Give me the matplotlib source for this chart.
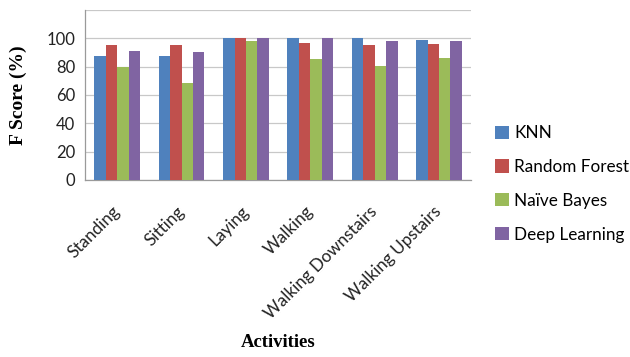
import matplotlib

matplotlib.use("Agg")
import matplotlib.pyplot as plt
import numpy as np

activities = ["Standing", "Sitting", "Laying", "Walking",
              "Walking Downstairs", "Walking Upstairs"]
knn = [87.8, 87.8, 100.0, 100.0, 100.0, 99.0]
random_forest = [95.3, 95.3, 100.0, 96.5, 95.3, 96.0]
naive_bayes = [80.0, 68.3, 98.1, 85.2, 80.8, 86.0]
deep_learning = [90.8, 90.4, 100.0, 100.0, 98.1, 98.1]
series_names = ["KNN", "Random Forest", "Naïve Bayes", "Deep Learning"]
y_ticks = [0, 20, 40, 60, 80, 100]

colors = ["#4F81BD", "#C0504D", "#9BBB59", "#8064A2"]
SANS = ["Lato", "DejaVu Sans"]
SERIF = ["Liberation Serif", "DejaVu Serif"]

fig = plt.figure(figsize=(6.3, 3.57), dpi=100)
ax = fig.add_axes([0.135, 0.496, 0.613, 0.476])

x = np.arange(len(activities))
width = 0.1775
for i, (name, vals) in enumerate(zip(series_names,
                                     [knn, random_forest, naive_bayes, deep_learning])):
    ax.bar(x + (i - 1.5) * width, vals, width, color=colors[i], label=name, zorder=3)

ax.set_xlim(-0.5, len(activities) - 0.5)
ax.set_ylim(0, 120)
ax.set_yticks(y_ticks + [120])
ax.set_yticklabels([str(t) for t in y_ticks] + [""], family=SANS, fontsize=12)
ax.yaxis.grid(True, color="#c8c8c8", lw=0.9, zorder=0)
ax.tick_params(axis="both", length=0, colors="#222222")
ax.tick_params(axis="y", pad=7)
ax.tick_params(axis="x", pad=21)
ax.set_xticks(x)
ax.set_xticklabels(activities, rotation=45, ha="right", va="center",
                   rotation_mode="anchor", family=SANS, fontsize=12.3)

for side in ("top", "right"):
    ax.spines[side].set_visible(False)
for side in ("left", "bottom"):
    ax.spines[side].set_color("#9a9a9a")
    ax.spines[side].set_linewidth(0.9)

fig.text(0.029, 0.734, "F Score (%)", rotation=90,
         ha="center", va="center", family=SERIF, fontweight="bold", fontsize=14)
fig.text(0.441, 0.04, "Activities", ha="center", va="center",
         family=SERIF, fontweight="bold", fontsize=13.5)

fig.legend(loc="upper left", bbox_to_anchor=(0.762, 0.693), frameon=False,
           prop={"family": SANS, "size": 12.3}, handlelength=0.8,
           handleheight=0.8, handletextpad=0.3, labelspacing=1.05)

fig.savefig("out.png", dpi=100)
